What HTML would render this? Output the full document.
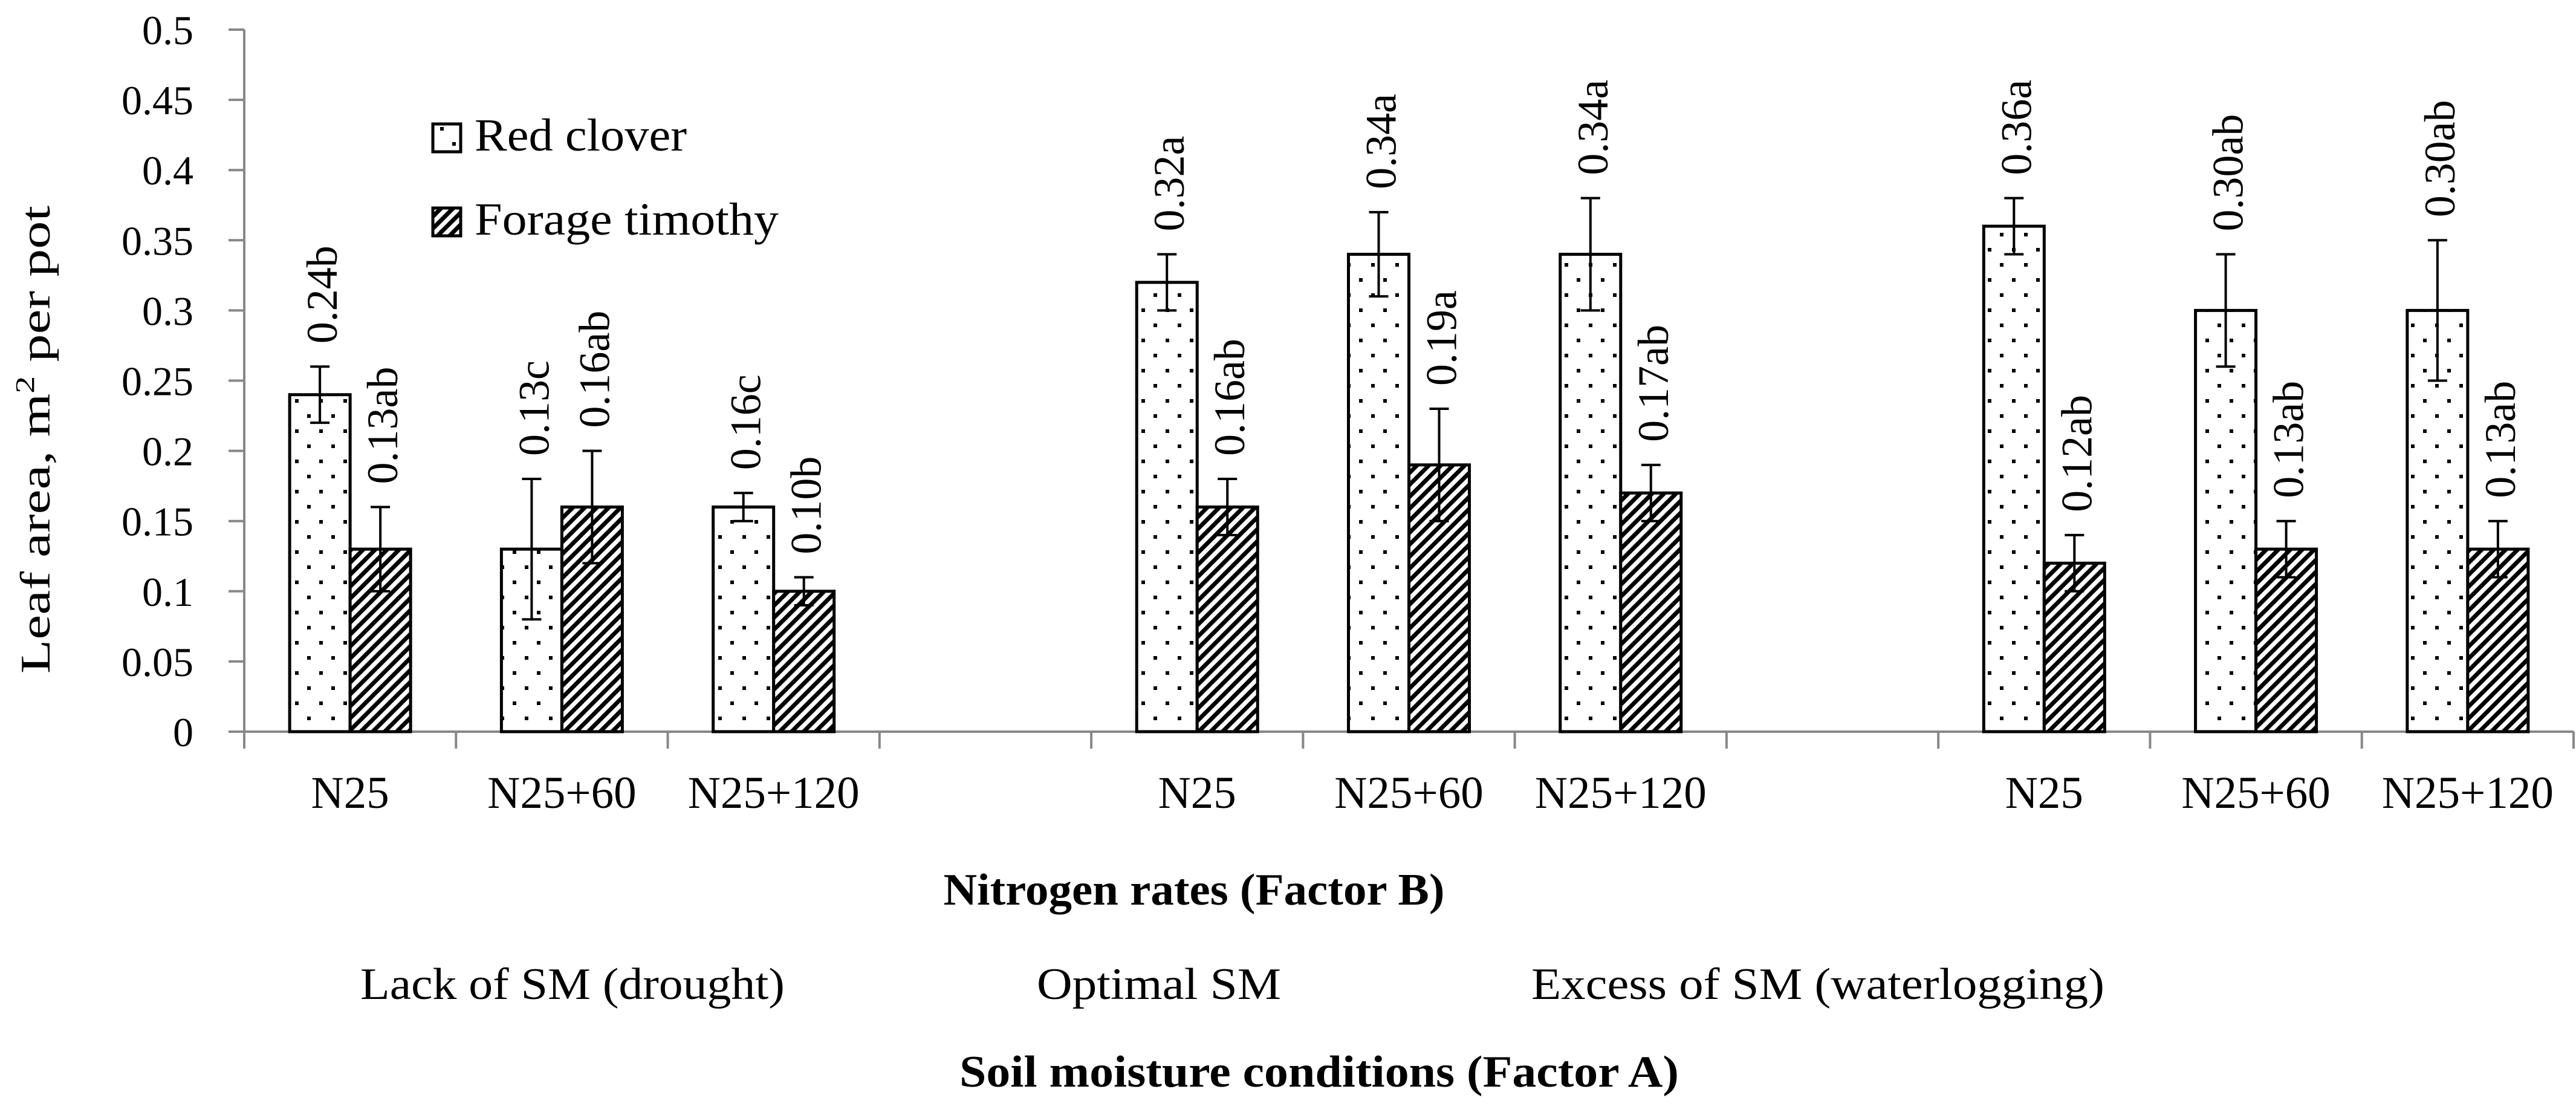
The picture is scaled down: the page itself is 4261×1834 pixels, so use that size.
<!DOCTYPE html>
<html><head><meta charset="utf-8"><style>
html,body{margin:0;padding:0;background:#fff;}
svg text{font-family:"Liberation Serif",serif;fill:#000;}
</style></head><body>
<svg id="chart" width="4261" height="1829" viewBox="0 0 4261 1829" xmlns="http://www.w3.org/2000/svg">
<defs>
<pattern id="dots" width="40" height="50" patternUnits="userSpaceOnUse">
<rect x="8" y="10" width="6" height="6" fill="#000"/>
<rect x="28" y="35" width="6" height="6" fill="#000"/>
</pattern>
<pattern id="stripes" width="14" height="14" patternUnits="userSpaceOnUse" patternTransform="rotate(45)">
<rect width="14" height="14" fill="#fff"/>
<rect width="7" height="14" fill="#000"/>
</pattern>
</defs>
<g id="grid"></g>
<g id="bars"></g>
<g id="labels"></g>
<text x="0" y="0" font-size="70" text-anchor="middle" textLength="774" lengthAdjust="spacingAndGlyphs" transform="translate(82,727) rotate(-90)">Leaf area, m<tspan font-size="44" dy="-26">2</tspan><tspan dy="26"> per pot</tspan></text>
<g>
<rect x="716" y="205" width="46" height="46" fill="url(#dots)" stroke="#000" stroke-width="5"/>
<text x="785" y="249" font-size="76" textLength="351" lengthAdjust="spacingAndGlyphs">Red clover</text>
<rect x="716" y="344" width="46" height="46" fill="url(#stripes)" stroke="#000" stroke-width="5"/>
<text x="785" y="388" font-size="76" textLength="503" lengthAdjust="spacingAndGlyphs">Forage timothy</text>
</g>
<text x="1975" y="1496" font-size="74" font-weight="bold" text-anchor="middle" textLength="829" lengthAdjust="spacingAndGlyphs">Nitrogen rates (Factor B)</text>
<text x="947" y="1652" font-size="74" text-anchor="middle" textLength="702" lengthAdjust="spacingAndGlyphs">Lack of SM (drought)</text>
<text x="1917" y="1652" font-size="74" text-anchor="middle" textLength="404" lengthAdjust="spacingAndGlyphs">Optimal SM</text>
<text x="3007" y="1652" font-size="74" text-anchor="middle" textLength="948" lengthAdjust="spacingAndGlyphs">Excess of SM (waterlogging)</text>
<text x="2182" y="1797" font-size="74" font-weight="bold" text-anchor="middle" textLength="1190" lengthAdjust="spacingAndGlyphs">Soil moisture conditions (Factor A)</text>
</svg>
<script>
const categories = ["N25","N25+60","N25+120","","N25","N25+60","N25+120","","N25","N25+60","N25+120"];
const redClover = [0.24,0.13,0.16,null,0.32,0.34,0.34,null,0.36,0.30,0.30];
const redCloverErr = [0.02,0.05,0.01,null,0.02,0.03,0.04,null,0.02,0.04,0.05];
const redCloverLabels = ["0.24b","0.13c","0.16c","","0.32a","0.34a","0.34a","","0.36a","0.30ab","0.30ab"];
const timothy = [0.13,0.16,0.10,null,0.16,0.19,0.17,null,0.12,0.13,0.13];
const timothyErr = [0.03,0.04,0.01,null,0.02,0.04,0.02,null,0.02,0.02,0.02];
const timothyLabels = ["0.13ab","0.16ab","0.10b","","0.16ab","0.19a","0.17ab","","0.12ab","0.13ab","0.13ab"];
const yTicks = [0,0.05,0.1,0.15,0.2,0.25,0.3,0.35,0.4,0.45,0.5];
const yTickLabels = ["0","0.05","0.1","0.15","0.2","0.25","0.3","0.35","0.4","0.45","0.5"];

const NS="http://www.w3.org/2000/svg";
const x0=404, x1=4257, y0=1210, yTop=49;
const catW=(x1-x0)/categories.length;
const yScale=v=>y0-(v/0.5)*(y0-yTop);
const xCenter=i=>x0+(i+0.5)*catW;
const barW=100;
function mk(tag,attrs,parent){const e=document.createElementNS(NS,tag);for(const k in attrs)e.setAttribute(k,attrs[k]);parent.appendChild(e);return e;}
const grid=document.getElementById('grid'), bars=document.getElementById('bars'), labels=document.getElementById('labels');

let ax=mk('line',{x1:x0,y1:yTop,x2:x0,y2:y0,stroke:'#888','stroke-width':4},grid);


yTicks.forEach((v,i)=>{
  const y=yScale(v);
  let t=mk('line',{x1:x0-26,y1:y,x2:x0,y2:y,stroke:'#888','stroke-width':4},grid);
  
  
  let tx=mk('text',{x:320,y:y+24,'font-size':68,'text-anchor':'end'},labels);
  tx.textContent=yTickLabels[i];
  
  
});
let xa=mk('line',{x1:x0,y1:y0,x2:x1,y2:y0,stroke:'#888','stroke-width':4},grid);


for(let i=0;i<=categories.length;i++){
  const x=x0+i*catW;
  let t=mk('line',{x1:x,y1:y0,x2:x,y2:y0+28,stroke:'#888','stroke-width':4},grid);
  
  
}
categories.forEach((c,i)=>{
  if(!c)return;
  let t=mk('text',{x:xCenter(i),y:1336,'font-size':75,'text-anchor':'middle'},labels);
  t.textContent=c;
  
  
});
function drawSeries(vals,errs,labs,offset,fill,name){
  vals.forEach((v,i)=>{
    if(v===null)return;
    const cx=xCenter(i)+offset;
    const y=yScale(v);
    let r=mk('rect',{x:cx-barW/2,y:y,width:barW,height:y0-y,fill:fill,stroke:'#000','stroke-width':5},bars);
    
    
    const yh=yScale(v+errs[i]), yl=yScale(v-errs[i]);
    let e=mk('path',{d:`M${cx},${yh}V${yl}M${cx-16},${yh}H${cx+16}M${cx-16},${yl}H${cx+16}`,stroke:'#000','stroke-width':4,fill:'none'},bars);
    
    
    let t=mk('text',{x:0,y:0,'font-size':72,transform:`translate(${cx+28},${yh-38}) rotate(-90)`},labels);
    t.textContent=labs[i];
    
    
  });
}
drawSeries(redClover,redCloverErr,redCloverLabels,-barW/2,'url(#dots)','red-clover');
drawSeries(timothy,timothyErr,timothyLabels,barW/2,'url(#stripes)','forage-timothy');
</script>
</body></html>
